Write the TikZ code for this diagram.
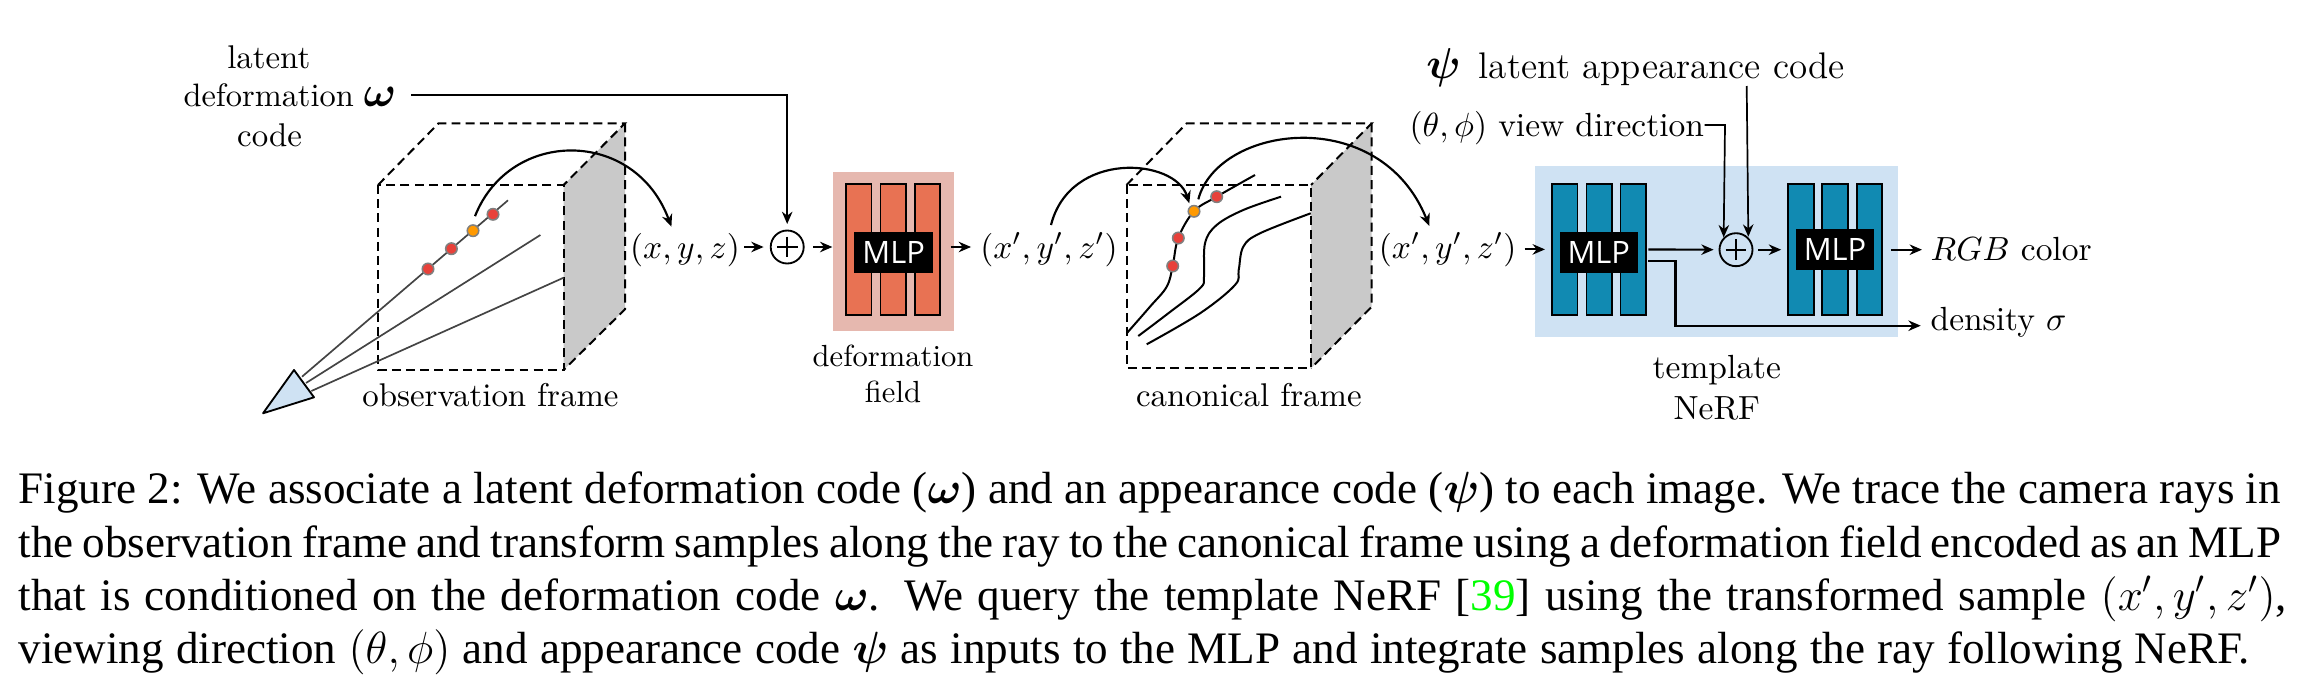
\RequirePackage{fix-cm}
\documentclass[tikz,border=0pt]{standalone}
\usepackage{amsmath,bm}
\usepackage{fontspec}
\newfontfamily\capfont{Liberation Serif}
\newfontfamily\mlpfont{Open Sans}
\usetikzlibrary{arrows.meta}
\definecolor{planegray}{HTML}{C9C9C9}
\definecolor{lightblue}{HTML}{CFE2F3}
\definecolor{salmonbg}{HTML}{E6B8AF}
\definecolor{salmonbar}{HTML}{E87253}
\definecolor{tealbar}{HTML}{118AB2}
\definecolor{dotred}{HTML}{E8413A}
\definecolor{dotorange}{HTML}{FF9900}
\definecolor{raygray}{HTML}{444444}
\definecolor{citegreen}{HTML}{00FF00}
\newdimen\px \px=0.324pt
\tikzset{
  lbl/.style={inner sep=0pt,anchor=base,font=\fontsize{10.85}{13}\selectfont},
  framelbl/.style={inner sep=0pt,anchor=base,font=\fontsize{10.65}{13}\selectfont},
  smalllbl/.style={inner sep=0pt,anchor=base,font=\fontsize{9.9}{12}\selectfont},
  arr/.style={line width=0.7pt,-{Stealth[length=4pt,width=3.4pt]}},
  thinarr/.style={line width=0.55pt,-{Stealth[length=4pt,width=3.4pt]}},
  dashedge/.style={line width=0.65pt,dash pattern=on 2.9pt off 1.7pt},
  ray/.style={line width=0.55pt,draw=raygray},
  warp/.style={line width=0.65pt,black},
  dotr/.style={circle,draw=gray,line width=0.5pt,fill=dotred,inner sep=0pt,minimum size=11.5\px},
  doto/.style={circle,draw=gray,line width=0.5pt,fill=dotorange,inner sep=0pt,minimum size=11.5\px},
  sumnode/.style={circle,draw,line width=0.6pt,inner sep=0pt,minimum size=33\px,
    path picture={\draw[line width=0.6pt] ([xshift=2pt]path picture bounding box.west)--([xshift=-2pt]path picture bounding box.east)
      ([yshift=-2pt]path picture bounding box.north)--([yshift=2pt]path picture bounding box.south);}},
  bgbox/.style={inner sep=0pt,draw=none},
  barbox/.style={inner sep=0pt,draw,line width=0.6pt,minimum width=25.5\px,minimum height=131\px},
  mlpbox/.style={inner sep=0pt,fill=black,text=white,minimum width=78.5\px,minimum height=41\px,font=\mlpfont\fontsize{10}{12}\selectfont},
  capline/.style={inner sep=0pt,anchor=base west,font=\capfont\fontsize{14.6}{17}\selectfont},
  biglbl/.style={inner sep=0pt,anchor=base,font=\fontsize{12}{14}\selectfont},
  symlbl/.style={inner sep=0pt,anchor=base,font=\fontsize{14}{16}\selectfont},
}
\begin{document}
\begin{tikzpicture}[x=0.324pt,y=-0.324pt]
\useasboundingbox (0,0) rectangle (2304,680);
% observation frame
\fill[planegray] (563.6,185)--(625,123.3)--(625,309.3)--(563.6,370)--cycle;
\draw[dashedge] (378,185)rectangle(563.6,370);
\draw[dashedge] (378,185)--(438.6,123.3)--(625,123.3)--(563.6,185);
\draw[dashedge] (625,123.3)--(625,309.3)--(563.6,370);
\coordinate (camA) at (302,376.7);
\coordinate (camB) at (306,383);
\coordinate (camC) at (311.4,391);
\coordinate (rayAend) at (508,200.3);
\coordinate (rayBend) at (540.4,235);
\coordinate (rayCend) at (563.6,277.7);
\draw[ray] (camA)--(rayAend);
\draw[ray] (camB)--(rayBend);
\draw[ray] (camC)--(rayCend);
\draw[line width=0.6pt,fill=lightblue,line join=round] (294,370)--(314,397.3)--(263,413.3)--cycle;
\node[dotr] (oa) at (428,269) {};
\node[dotr] (ob) at (451.4,248.7) {};
\node[doto] (oc) at (473,230.7) {};
\node[dotr] (od) at (493,214.3) {};
% text
\node[framelbl] (latent) at (268.8,68.3) {latent};
\node[inner sep=0pt,anchor=base,font=\fontsize{10.5}{13}\selectfont] (deform) at (268.7,107) {deformation};
\node[framelbl] (code) at (269.6,146) {code};
\node[symlbl] (omega) at (380,107) {$\bm{\omega}$};
\node[framelbl] (obsframe) at (490.5,406.7) {observation frame};
\node[lbl] (xyz) at (685,258) {$(x,y,z)$};
\node[sumnode] (plusA) at (787.2,247) {};
\draw[arr] (oc.north)++(2\px,8\px) .. controls (510,128) and (635,128) .. (671.4,226.7);
\draw[line width=0.6pt,-{Stealth[length=4pt,width=3.4pt]}] (411.4,95)-|(plusA.north) [shorten >=1.8pt];
\draw[arr,shorten <=1.3pt,shorten >=2pt] (xyz.east |- plusA)--(plusA.west);
% deformation field
\node[bgbox,fill=salmonbg,minimum width=121\px,minimum height=158.7\px] (fieldbg) at (893.5,251.35) {};
\node[barbox,fill=salmonbar] (fa) at (858.8,249.5) {};
\node[barbox,fill=salmonbar] (fb) at (893.2,249.5) {};
\node[barbox,fill=salmonbar] (fc) at (927.5,249.5) {};
\node[mlpbox] (fieldmlp) at (893.7,252.2) {MLP};
\draw[arr,shorten <=8.5pt] (plusA.center)--(fieldbg.west |- plusA) ;
\node[lbl] (xyzp) at (1049,258) {$(x',y',z')$};
\draw[arr,shorten <=-1.3pt,shorten >=2.8pt] (fieldbg.east |- plusA)--(xyzp.west |- plusA);
\node[smalllbl] (deflab) at (893,366.7) {deformation};
\node[smalllbl] (fieldlab) at (893,402.7) {field};
% canonical frame
\fill[planegray] (1311,185)--(1371.7,123.3)--(1371.7,306.7)--(1311,368.3)--cycle;
\draw[dashedge] (1126.5,185)rectangle(1311,368.3);
\draw[dashedge] (1126.5,185)--(1186.7,123.3)--(1371.7,123.3)--(1311,185);
\draw[dashedge] (1371.7,123.3)--(1371.7,306.7)--(1311,368.3);
\draw[warp] plot[smooth,tension=0.6] coordinates {(1126.7,333.3)(1150,306.7)(1166.7,286.7)(1172.7,266)(1178.3,238)(1194,211.3)(1216.7,196.7)(1255,175)};
\draw[warp] plot[smooth,tension=0.6] coordinates {(1138.3,336)(1170,312)(1200,288.3)(1204,276.7)(1205,243.3)(1216.7,225)(1243.3,210)(1281,196.7)};
\draw[warp] plot[smooth,tension=0.6] coordinates {(1146.7,344.3)(1200,313.3)(1235,285)(1238.7,270)(1243.3,246.7)(1260,233.3)(1310.7,213.3)};
\node[dotr] (ca) at (1172.7,266) {};
\node[dotr] (cb) at (1178.3,238) {};
\node[doto] (cc) at (1194,211.3) {};
\node[dotr] (cd) at (1216.7,196.7) {};
\node[framelbl] (canon) at (1248.8,406.7) {canonical frame};
\draw[arr] (1051,225) .. controls (1070,150) and (1175,158) .. (1189.3,203.3);
\draw[arr] (1198.3,199.3) .. controls (1218,125) and (1380,103) .. (1429.3,226);
% template NeRF
\node[bgbox,fill=lightblue,minimum width=363\px,minimum height=170.7\px] (nerfbg) at (1716.5,251.35) {};
\node[barbox,fill=tealbar] (na) at (1564.8,249.4) {};
\node[barbox,fill=tealbar] (nb) at (1599.2,249.4) {};
\node[barbox,fill=tealbar] (nc) at (1633.2,249.4) {};
\node[mlpbox] (nerfmlpA) at (1598.8,252.7) {MLP};
\node[barbox,fill=tealbar] (nd) at (1801,249.4) {};
\node[barbox,fill=tealbar] (ne) at (1835,249.4) {};
\node[barbox,fill=tealbar] (nf) at (1869.4,249.4) {};
\node[mlpbox] (nerfmlpB) at (1835,249.3) {MLP};
\node[sumnode] (plusB) at (1736,249.7) {};
\node[lbl] (xyzq) at (1447.6,258) {$(x',y',z')$};
\node[symlbl] (psi) at (1443.6,78.3) {$\bm{\psi}$};
\node[biglbl] (appear) at (1661.7,78.3) {latent appearance code};
\node[lbl] (view) at (1556.8,136.7) {$(\theta,\phi)$ view direction};
\node[lbl,anchor=base west] (rgb) at (1930,260.7) {$RGB$ color};
\node[lbl,anchor=base west] (density) at (1930,330) {density $\sigma$};
\node[lbl] (templ) at (1716.8,378) {template};
\node[lbl] (nerflab) at (1716.8,419) {NeRF};
\coordinate (dbus) at (1648.4,261);
\coordinate (fwd) at (1648.4,249.5);
\coordinate (psidrop) at (1746.7,86);
\coordinate (viewbend) at (1725,125);
\draw[arr,shorten <=2.5pt,shorten >=2pt] (xyzq.east |- na.west)--(na.west);
\draw[arr] (fwd)--(plusB.west) [shorten >=1.6pt];
\draw[arr,shorten <=1.6pt,shorten >=2pt] (plusB.east)--(nd.west |- plusB);
\draw[arr,shorten <=2.6pt,shorten >=2.6pt] (nf.east |- plusB)--(rgb.west |- plusB);
\draw[arr,shorten >=3pt] (dbus)-|(1675.5,325.7)--(density.west |- 1675.5,325.7);
\draw[thinarr] (view.east |- viewbend) -- (viewbend) -- (plusB.north west);
\draw[thinarr] (psidrop)--(plusB.north east |- 0,236.7);
% caption
\node[capline] (capa) at (18,503) {\makebox[733pt][s]{Figure 2: We associate a latent deformation code ($\bm{\omega}$) and an appearance code ($\bm{\psi}$) to each image. We trace the camera rays in}};
\node[capline] (capb) at (18,557) {\makebox[733pt][s]{the observation frame and transform samples along the ray to the canonical frame using a deformation field encoded as an MLP}};
\node[capline] (capc) at (18,610) {\makebox[735pt][s]{that is conditioned on the deformation code $\bm{\omega}$. We query the template NeRF [\textcolor{citegreen}{39}] using the transformed sample $(x',y',z')$,}};
\node[capline] (capd) at (18,663) {\makebox[723pt][s]{viewing direction $(\theta,\phi)$ and appearance code $\bm{\psi}$ as inputs to the MLP and integrate samples along the ray following NeRF.}};
\end{tikzpicture}
\end{document}
